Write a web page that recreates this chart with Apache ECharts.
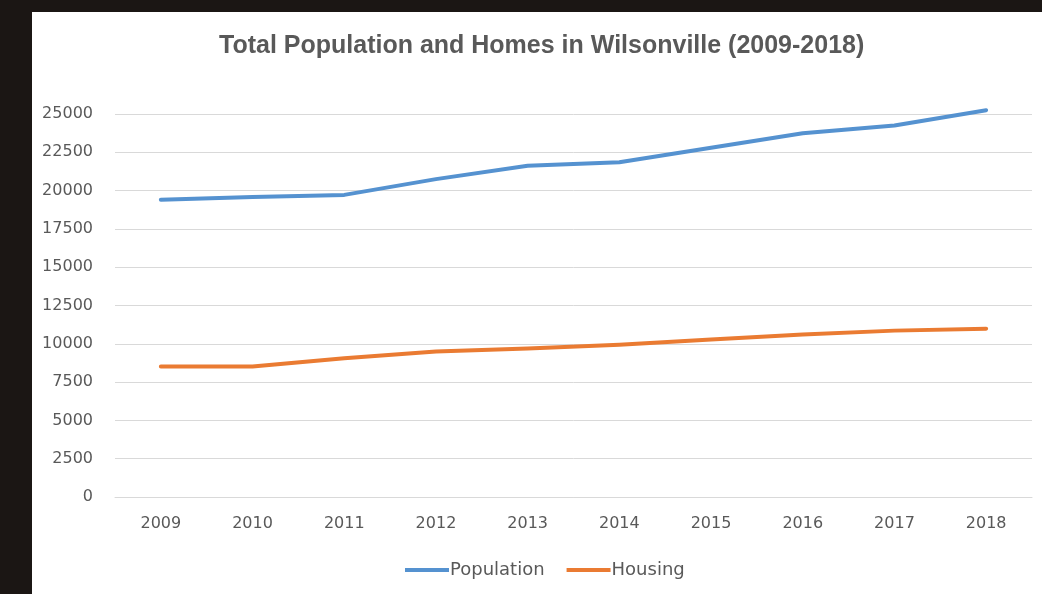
<!DOCTYPE html>
<html>
<head>
<meta charset="utf-8">
<script src="https://cdn.jsdelivr.net/npm/echarts@6/dist/echarts.min.js"></script>
<style>
html,body{margin:0;padding:0;background:#1b1614;}
#chart{width:1042px;height:594px;}
</style>
</head>
<body>
<div id="chart"></div>
<script>
const titleText = 'Total Population and Homes in Wilsonville (2009-2018)';
const years = ['2009','2010','2011','2012','2013','2014','2015','2016','2017','2018'];
const population = [19400, 19580, 19720, 20750, 21620, 21850, 22800, 23750, 24250, 25250];
const housing = [8520, 8520, 9050, 9490, 9700, 9930, 10280, 10600, 10860, 10990];
const seriesNames = ['Population', 'Housing'];

const chart = echarts.init(document.getElementById('chart'));
const txt = '#595959';
chart.setOption({
  backgroundColor: '#1b1614',
  animation: false,
  graphic: [{
    type: 'rect', z: -10, silent: true,
    shape: {x: 32, y: 12, width: 1010, height: 582},
    style: {fill: '#ffffff'}
  }],
  title: {
    text: titleText, left: 214, top: 29,
    textStyle: {fontFamily: 'Liberation Sans', fontSize: 25, fontWeight: 'bold', color: txt}
  },
  legend: {
    bottom: 10, left: 400, itemGap: 22,
    icon: 'rect', itemWidth: 44, itemHeight: 4,
    textStyle: {fontFamily: 'DejaVu Sans', fontSize: 18, color: txt, padding: [0,0,0,-4]},
    data: seriesNames
  },
  grid: {left: 115, right: 10, top: 114, bottom: 97, containLabel: false},
  xAxis: {
    type: 'category', data: years, boundaryGap: true,
    axisLine: {show: true, lineStyle: {color: '#d9d9d9', width: 1}},
    axisTick: {show: false},
    axisLabel: {color: txt, fontFamily: 'DejaVu Sans', fontSize: 16, margin: 19}
  },
  yAxis: {
    type: 'value', min: 0, max: 25000, interval: 2500,
    axisLine: {show: false}, axisTick: {show: false},
    splitLine: {lineStyle: {color: '#d9d9d9', width: 1}},
    axisLabel: {color: txt, fontFamily: 'DejaVu Sans', fontSize: 16, margin: 22,
      formatter: function (v) { return String(v); }}
  },
  series: [
    {name: seriesNames[0], type: 'line', data: population, showSymbol: false, clip: false,
     lineStyle: {color: '#5592d0', width: 4, cap: 'round', join: 'round'}, itemStyle: {color: '#5592d0'}},
    {name: seriesNames[1], type: 'line', data: housing, showSymbol: false, clip: false,
     lineStyle: {color: '#ea7b32', width: 4, cap: 'round', join: 'round'}, itemStyle: {color: '#ea7b32'}}
  ]
});
</script>
</body>
</html>
